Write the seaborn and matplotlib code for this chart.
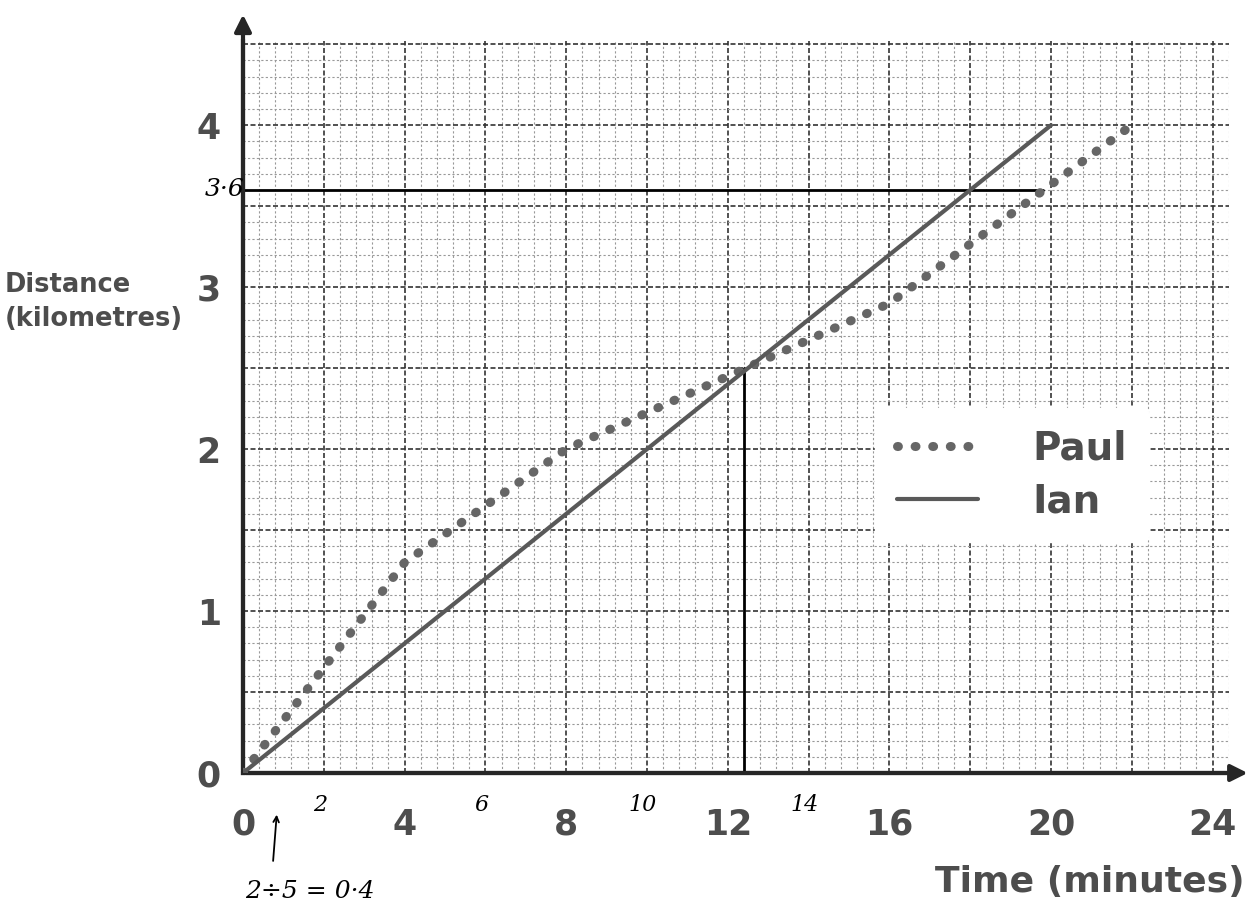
import numpy as np
import pandas as pd
import matplotlib
matplotlib.use('Agg')
import matplotlib.pyplot as plt
from matplotlib.ticker import FuncFormatter
import seaborn as sns

# values
ian_time = [0, 20]
ian_dist = [0, 4]
paul_time = [0, 4, 8, 16, 22]
paul_dist = [0, 1.3, 2.0, 2.9, 4.0]
x_labels = [0, 4, 8, 12, 16, 20, 24]
y_labels = [0, 1, 2, 3, 4]
note_x = [2, 6, 10, 14]
note_text = ['2', '6', '10', '14']
read_dist = 3.6
read_time_end = 19.8
cross_time = 12.4
cross_dist = 2.5

sns.set_style('white')
plt.rcParams['font.family'] = ['DejaVu Sans']

fig = plt.figure(figsize=(12.51, 9.07), dpi=100)
ax = fig.add_axes([243 / 1251, 134 / 907, 985.8 / 1251, 732 / 907])

paul = pd.DataFrame({'time': paul_time, 'dist': paul_dist})
ian = pd.DataFrame({'time': ian_time, 'dist': ian_dist})
sns.lineplot(data=paul, x='time', y='dist', ax=ax, color='0.4', lw=6.5,
             linestyle=(0, (0.1, 1.85)), dash_capstyle='round', label='Paul', zorder=4)
sns.lineplot(data=ian, x='time', y='dist', ax=ax, color='0.35', lw=3,
             label='Ian', zorder=4)

# hand drawn read-off lines
ax.plot([0, read_time_end], [read_dist, read_dist], color='k', lw=2, zorder=3)
ax.plot([cross_time, cross_time], [0, cross_dist], color='k', lw=2, zorder=3)

ax.set_xlim(0, 24.4)
ax.set_ylim(0, 4.52)

# graph paper
ax.set_xticks(np.arange(0, 24.41, 2))
ax.set_yticks(np.arange(0, 4.51, 0.5))
ax.set_xticks(np.arange(0, 24.41, 0.4), minor=True)
ax.set_yticks(np.arange(0, 4.51, 0.1), minor=True)
ax.grid(which='minor', color='0.6', lw=0.8, linestyle=(0, (2, 2)))
ax.grid(which='major', color='0.2', lw=1.2, linestyle=(0, (3, 1.5)))
ax.xaxis.set_major_formatter(FuncFormatter(lambda v, p: f'{v:.0f}' if round(v) in x_labels and abs(v - round(v)) < 1e-6 else ''))
ax.yaxis.set_major_formatter(FuncFormatter(lambda v, p: f'{v:.0f}' if round(v) in y_labels and abs(v - round(v)) < 1e-6 else ''))
ax.tick_params(axis='x', which='both', length=0, pad=25, labelsize=25, labelcolor='0.3')
ax.tick_params(axis='y', which='both', length=0, pad=16, labelsize=25, labelcolor='0.3')
for t in ax.get_xticklabels() + ax.get_yticklabels():
    t.set_fontweight('bold')

for s in ['top', 'right']:
    ax.spines[s].set_visible(False)
for s in ['left', 'bottom']:
    ax.spines[s].set_linewidth(3)
    ax.spines[s].set_color('0.15')

ax.annotate('', xy=(1.022, 0), xytext=(0, 0), xycoords='axes fraction',
            arrowprops=dict(arrowstyle='-|>', lw=3, color='0.15', mutation_scale=25))
ax.annotate('', xy=(0, 1.04), xytext=(0, 0), xycoords='axes fraction',
            arrowprops=dict(arrowstyle='-|>', lw=3, color='0.15', mutation_scale=25))

ax.set_xlabel('')
ax.set_ylabel('')
fig.text(5 / 1251, 1 - 302 / 907, 'Distance\n(kilometres)', fontsize=18.5, fontweight='bold',
         color='0.3', ha='left', va='center', linespacing=1.35)
fig.text(1245 / 1251, 1 - 882 / 907, 'Time (minutes)', fontsize=26, fontweight='bold',
         color='0.3', ha='right', va='center')

leg = ax.legend(loc='center', bbox_to_anchor=(0.78, 0.407), fontsize=28, handlelength=2.1,
                handletextpad=1.4, labelspacing=0.4, borderpad=0.55, frameon=True,
                facecolor='white', edgecolor='white', framealpha=1, fancybox=True)
for t in leg.get_texts():
    t.set_color('0.3')
    t.set_fontweight('bold')

# pencil notes
hand = dict(color='k', fontstyle='italic', family='DejaVu Serif', clip_on=False)
ax.text(-0.45, read_dist, '3·6', fontsize=18, ha='center', va='center', **hand)
for xv, s in zip(note_x, note_text):
    ax.text(xv - 0.1, -0.2, s, fontsize=16, ha='center', va='center', **hand)
ax.annotate('', xy=(0.84, -0.24), xytext=(0.74, -0.56), xycoords='data',
            arrowprops=dict(arrowstyle='->', lw=1.3, color='k'), annotation_clip=False)
ax.text(1.66, -0.73, '2÷5 = 0·4', fontsize=18, ha='center', va='center', **hand)

fig.savefig('out.png', dpi=100)
